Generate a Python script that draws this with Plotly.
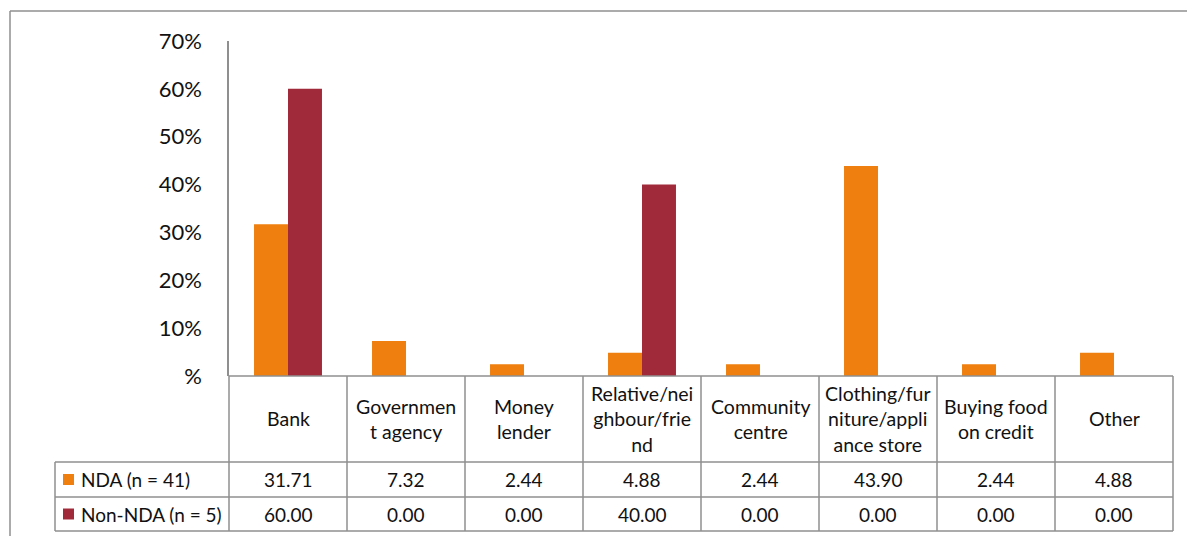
import plotly.graph_objects as go

categories = ["Bank", "Government agency", "Money lender", "Relative/neighbour/friend",
              "Community centre", "Clothing/furniture/appliance store", "Buying food on credit", "Other"]
header_labels = ["Bank", "Governmen<br>t agency", "Money<br>lender", "Relative/nei<br>ghbour/frie<br>nd",
                 "Community<br>centre", "Clothing/fur<br>niture/appli<br>ance store", "Buying food<br>on credit", "Other"]
series_names = ["NDA (n = 41)", "Non-NDA (n = 5)"]
nda = [31.71, 7.32, 2.44, 4.88, 2.44, 43.90, 2.44, 4.88]
non_nda = [60.00, 0.00, 0.00, 40.00, 0.00, 0.00, 0.00, 0.00]
y_tickvals = [0, 10, 20, 30, 40, 50, 60, 70]
y_ticktext = ["%", "10%", "20%", "30%", "40%", "50%", "60%", "70%"]

colors = ["#EF7F0E", "#A12A3A"]
grid_color = "#8f8f8f"
font_family = "Lato, 'Open Sans', sans-serif"

W, H = 1187, 536
L, R, T, B = 229, 14, 41, 160
PW = W - L - R
PH = H - T - B


def px(x):
    return (x - L) / PW


def py(y):
    return (H - B - y) / PH


fig = go.Figure()
for name, vals, col in zip(series_names, [nda, non_nda], colors):
    fig.add_trace(go.Bar(x=categories, y=vals, name=name, marker=dict(color=col, line=dict(width=0))))

shapes = []
line = dict(color=grid_color, width=1.5)
# outer frame
shapes.append(dict(type="line", xref="paper", yref="paper", x0=px(10), x1=px(W + 5), y0=py(11), y1=py(11), line=line))
shapes.append(dict(type="line", xref="paper", yref="paper", x0=px(10), x1=px(10), y0=py(11), y1=py(H + 5), line=line))

n = len(categories)
row_tops = [462, 497, 531]
# horizontal lines of table
shapes.append(dict(type="line", xref="paper", yref="paper", x0=0, x1=1, y0=0, y1=0, line=line))
for yy in row_tops:
    shapes.append(dict(type="line", xref="paper", yref="paper", x0=px(55), x1=1, y0=py(yy), y1=py(yy), line=line))
# vertical lines
for i in range(n + 1):
    shapes.append(dict(type="line", xref="paper", yref="paper", x0=i / n, x1=i / n, y0=0, y1=py(531), line=line))
shapes.append(dict(type="line", xref="paper", yref="paper", x0=px(55), x1=px(55), y0=py(462), y1=py(531), line=line))

annotations = []
tfont = dict(family=font_family, size=19, color="#111111")
hfont = dict(family=font_family, size=19.5, color="#111111")
for i, lab in enumerate(header_labels):
    annotations.append(dict(xref="paper", yref="paper", x=(i + 0.5) / n, y=py(419), text=lab, showarrow=False,
                            font=hfont, xanchor="center", yanchor="middle", align="center"))
row_centers = [479.5, 514]
for r, (name, vals, col) in enumerate(zip(series_names, [nda, non_nda], colors)):
    yc = row_centers[r]
    for i, v in enumerate(vals):
        annotations.append(dict(xref="paper", yref="paper", x=(i + 0.5) / n, y=py(yc), text=f"{v:.2f}",
                                showarrow=False, font=tfont, xanchor="center", yanchor="middle"))
    shapes.append(dict(type="rect", xref="paper", yref="paper", x0=px(63), x1=px(74), y0=py(yc - 5.5),
                       y1=py(yc + 5.5), fillcolor=col, line=dict(width=0)))
    annotations.append(dict(xref="paper", yref="paper", x=px(79), y=py(yc), text=name, showarrow=False,
                            font=tfont, xanchor="left", yanchor="middle"))

fig.update_layout(
    width=W, height=H,
    margin=dict(l=L, r=R, t=T, b=B, pad=0),
    paper_bgcolor="white", plot_bgcolor="white",
    barmode="group", bargap=0.424, bargroupgap=0,
    showlegend=False,
    shapes=shapes, annotations=annotations,
    font=dict(family=font_family),
)
fig.update_xaxes(showticklabels=False, showgrid=False, zeroline=False, showline=False, ticks="",
                 range=[-0.5, n - 0.5])
fig.update_yaxes(range=[0, 70], tickvals=y_tickvals, ticktext=y_ticktext, showgrid=False, zeroline=False,
                 showline=True, linecolor=grid_color, linewidth=1.5, ticks="", ticklabelstandoff=21,
                 tickfont=dict(family=font_family, size=22, color="#111111"))

fig.write_html("out.html")
